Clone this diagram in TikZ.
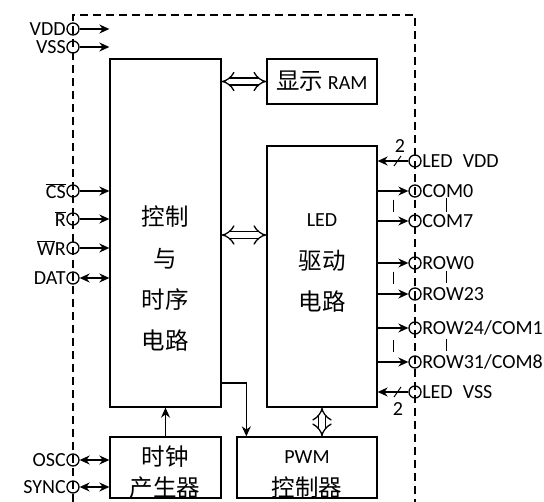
\documentclass[tikz,border=0pt]{standalone}
\usepackage{fontspec}
\setmainfont{Carlito}
\newfontfamily\cjk{Noto Sans CJK SC}
\usetikzlibrary{arrows.meta, positioning, calc}

\tikzset{
  blk/.style={draw, inner sep=0pt},
  pin/.style={draw, circle, minimum size=12pt, inner sep=0pt},
  lbl/.style={font=\fontsize{20}{22}\selectfont, inner sep=0pt},
  zh/.style={font=\fontsize{23.5}{25}\selectfont\cjk, inner sep=0pt},
  sig/.style={-{Stealth[length=10pt,width=9pt]}},
  bisig/.style={{Stealth[length=10pt,width=9pt]}-{Stealth[length=10pt,width=9pt]}},
  bus/.style={double, double distance=5.5pt, {Implies}-{Implies}},
  dots/.style={line width=1pt},
}

\begin{document}
\begin{tikzpicture}[x=1pt, y=-1pt, line width=1.3pt]
  \useasboundingbox (0,0) rectangle (544,502);

  % chip outline
  \draw[dash pattern=on 8pt off 5pt] (73,502) -- (73,15) -- (415,15) -- (415,502);

  % blocks
  \node[blk, minimum width=111pt, minimum height=348pt] (ctrl) at (165.5,233) {};
  \node[blk, minimum width=110pt, minimum height=45pt, font=\fontsize{20}{22}\selectfont]
    (ram) at (322,81.5) {{\fontsize{23.5}{25}\selectfont\cjk 显示} RAM};
  \node[blk, minimum width=110pt, minimum height=261pt] (led) at (322,276.5) {};
  \node[blk, minimum width=111pt, minimum height=61pt] (clk) at (165.5,467.5) {};
  \node[blk, minimum width=140pt, minimum height=61pt] (pwm) at (307,467.5) {};

  \node[zh] at (165,217) {控制};
  \node[zh] at (165,259) {与};
  \node[zh] at (165,300) {时序};
  \node[zh] at (165,341) {电路};
  \node[lbl] at (322,220) {LED};
  \node[zh] at (322,261) {驱动};
  \node[zh] at (322,302) {电路};
  \node[zh] at (165,457) {时钟};
  \node[zh] at (165,488) {产生器};
  \node[lbl] at (307,457) {PWM};
  \node[zh] at (307,488) {控制器};

  % left pins
  \node[pin] (pvdd) at (73,29) {};
  \node[pin] (pvss) at (73,47) {};
  \node[pin] (pcs) at (73,191) {};
  \node[pin] (prd) at (73,219) {};
  \node[pin] (pwr) at (73,248) {};
  \node[pin] (pdat) at (73,278) {};
  \node[pin] (posc) at (73,460) {};
  \node[pin] (psync) at (73,487) {};

  \node[lbl, left=0pt of pvdd] {VDD};
  \node[lbl, left=0pt of pvss] {VSS};
  \node[lbl, left=0pt of pcs] {$\overline{\mbox{CS}}$};
  \node[lbl, left=0pt of prd] {$\overline{\mbox{R}}$};
  \node[lbl, left=0pt of pwr] {$\overline{\mbox{W}}$R};
  \node[lbl, left=0pt of pdat] {DAT};
  \node[lbl, left=0pt of posc] {OSC};
  \node[lbl, left=0pt of psync] {SYNC};

  \draw[sig] (pvdd) -- (pvdd -| ctrl.west);
  \draw[sig] (pvss) -- (pvss -| ctrl.west);
  \draw[sig] (pcs) -- (pcs -| ctrl.west);
  \draw[sig] (prd) -- (prd -| ctrl.west);
  \draw[sig] (pwr) -- (pwr -| ctrl.west);
  \draw[bisig] (pdat) -- (pdat -| ctrl.west);
  \draw[bisig] (posc) -- (posc -| clk.west);
  \draw[bisig] (psync) -- (psync -| clk.west);

  % right pins
  \node[pin] (pledvdd) at (415,161) {};
  \node[pin] (pcom0) at (415,191) {};
  \node[pin] (pcom7) at (415,221) {};
  \node[pin] (prow0) at (415,263) {};
  \node[pin] (prow23) at (415,294) {};
  \node[pin] (prow24) at (415,328) {};
  \node[pin] (prow31) at (415,362) {};
  \node[pin] (pledvss) at (415,392) {};

  \node[lbl, right=0pt of pledvdd] {LED\hspace{10pt}VDD};
  \node[lbl, right=0pt of pcom0] {COM0};
  \node[lbl, right=0pt of pcom7] {COM7};
  \node[lbl, right=0pt of prow0] {ROW0};
  \node[lbl, right=0pt of prow23] {ROW23};
  \node[lbl, right=0pt of prow24] {ROW24/COM1};
  \node[lbl, right=0pt of prow31] {ROW31/COM8};
  \node[lbl, right=0pt of pledvss] {LED\hspace{10pt}VSS};

  \draw[sig] (pledvdd) -- (pledvdd -| led.east);
  \draw[sig] (pledvss) -- (pledvss -| led.east);
  \draw[sig] (pcom0 -| led.east) -- (pcom0);
  \draw[sig] (pcom7 -| led.east) -- (pcom7);
  \draw[sig] (prow0 -| led.east) -- (prow0);
  \draw[sig] (prow23 -| led.east) -- (prow23);
  \draw[sig] (prow24 -| led.east) -- (prow24);
  \draw[sig] (prow31 -| led.east) -- (prow31);

  % bus width marks
  \draw[line width=1pt] (394,166) -- (401,156);
  \node[lbl] at (400,146) {2};
  \draw[line width=1pt] (394,397) -- (401,387);
  \node[lbl] at (398,409) {2};

  % omitted pins
  \draw[dots] (393,200) -- (393,212);
  \draw[dots] (446,198) -- (446,212);
  \draw[dots] (393,272) -- (393,284);
  \draw[dots] (446,271) -- (446,283);
  \draw[dots] (393,340) -- (393,352);
  \draw[dots] (446,339) -- (446,351);

  % internal connections
  \draw[bus] (ram.west -| ctrl.east) -- (ram.west);
  \draw[bus] (ctrl.east |- 0,235) -- (led.west |- 0,235);
  \draw[bus] (led.south) -- (pwm.north -| led.south);
  \draw[sig] (clk.north) -- (clk.north |- ctrl.south);
  \draw[sig] (ctrl.east |- 0,383) -| ([xshift=10pt]pwm.north west);
\end{tikzpicture}
\end{document}
